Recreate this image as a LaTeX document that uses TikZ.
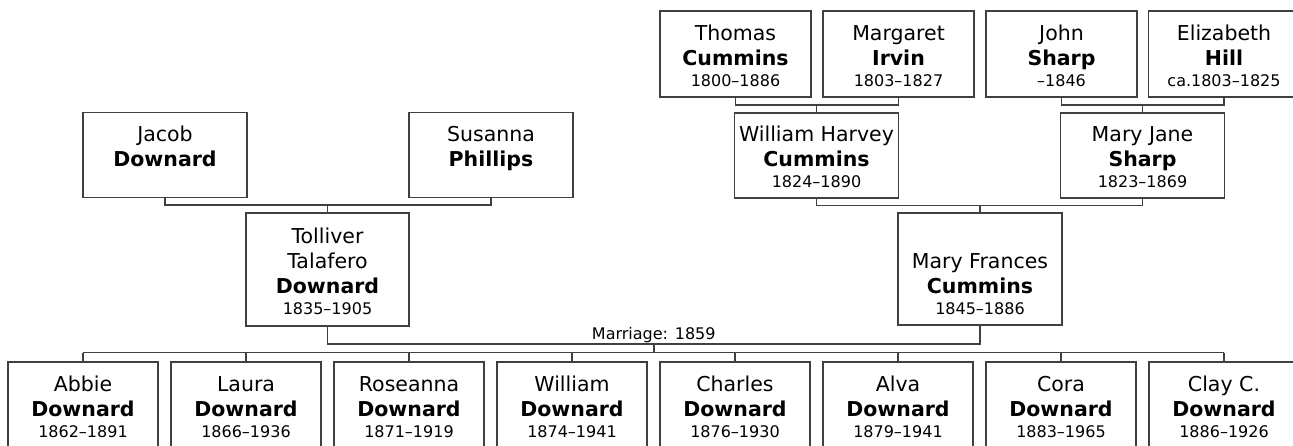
\documentclass[tikz,border=0pt]{standalone}
\usepackage{fontspec}
\setmainfont{DejaVu Sans}
\usetikzlibrary{calc}
\definecolor{Frame}{HTML}{404040}
\newcommand{\person}[3]{#1\\\textbf{#2}\\[-4pt]{\fontsize{16}{19}\selectfont\vphantom{1}#3}}

\begin{document}
\begin{tikzpicture}[x=1pt,y=-1pt,
    link/.style={draw=Frame,line width=1.7pt},
    person/.style={draw=Frame,line width=1.5pt,fill=white,align=center,inner xsep=0pt,inner ysep=0pt,font=\fontsize{20.5}{25}\selectfont},
    elder/.style={person,minimum width=151pt,text height=76pt,text depth=10pt},
    parent/.style={person,minimum width=164pt,text height=75pt,text depth=10pt},
    kid/.style={person,minimum width=150pt,text height=75pt,text depth=11pt}]
  \useasboundingbox (0,0) rectangle (1293,446);
  \fill[white] (0,0) rectangle (1293,446);

  % great-grandparents
  \node[elder] (thomas) at (735.5,54) {\person{Thomas}{Cummins}{1800–1886}};
  \node[elder] (margaret) at (898.5,54) {\person{Margaret}{Irvin}{1803–1827}};
  \node[elder] (john) at (1061.5,54) {\person{John}{Sharp}{–1846}};
  \node[elder] (elizabeth) at (1224,54) {\person{Elizabeth}{Hill}{ca.1803–1825}};

  % grandparents
  \node[parent] (jacob) at (165,155) {\person{Jacob}{Downard}{}};
  \node[parent] (susanna) at (491,155) {\person{Susanna}{Phillips}{}};
  \node[parent] (wharvey) at (816.5,155.5) {\person{William Harvey}{Cummins}{1824–1890}};
  \node[parent] (maryjane) at (1142.5,155.5) {\person{Mary Jane}{Sharp}{1823–1869}};

  % couple
  \node[person,minimum width=163pt,text height=102pt,text depth=11pt] (tolliver) at (327.5,269.5)
    {\person{Tolliver\\Talafero}{Downard}{1835–1905}};
  \node[person,minimum width=164pt,text height=102pt,text depth=10pt] (maryfrances) at (980,269)
    {\person{Mary Frances}{Cummins}{1845–1886}};

  % children
  \foreach \first/\years [count=\i] in {Abbie/1862–1891,Laura/1866–1936,Roseanna/1871–1919,William/1874–1941,
      Charles/1876–1930,Alva/1879–1941,Cora/1883–1965,Clay C./1886–1926}
    \node[kid] (child\i) at ({83+163*(\i-1)},405) {\person{\first}{Downard}{\years}};

  % parent brackets
  \foreach \dad/\mum/\child in {thomas/margaret/wharvey,john/elizabeth/maryjane,
      jacob/susanna/tolliver,wharvey/maryjane/maryfrances} {
    \coordinate (bus) at ($(\dad.south)!.5!(\child.north)$);
    \draw[link] (\dad.south) -- (\dad.south |- bus) -- (\mum.south |- bus) -- (\mum.south);
    \draw[link] (\child.north) -- (\child.north |- bus);
  }

  % marriage
  \coordinate (wed) at ($(tolliver.south)!.5!(child1.north)$);
  \draw[link] (tolliver.south) -- (tolliver.south |- wed) -- (maryfrances.south |- wed) -- (maryfrances.south);
  \coordinate (wedmid) at ($(tolliver.south |- wed)!.5!(maryfrances.south |- wed)$);
  \node[above,inner sep=1pt,font=\fontsize{16}{19}\selectfont] (marriage) at (wedmid) {Marriage: 1859};
  \coordinate (kidsbus) at ($(wedmid)!.5!(wedmid |- child1.north)$);
  \draw[link] (wedmid) -- (kidsbus);
  \draw[link] (child1.north |- kidsbus) -- (child8.north |- kidsbus);
  \foreach \i in {1,...,8}
    \draw[link] (child\i.north) -- (child\i.north |- kidsbus);
\end{tikzpicture}
\end{document}
